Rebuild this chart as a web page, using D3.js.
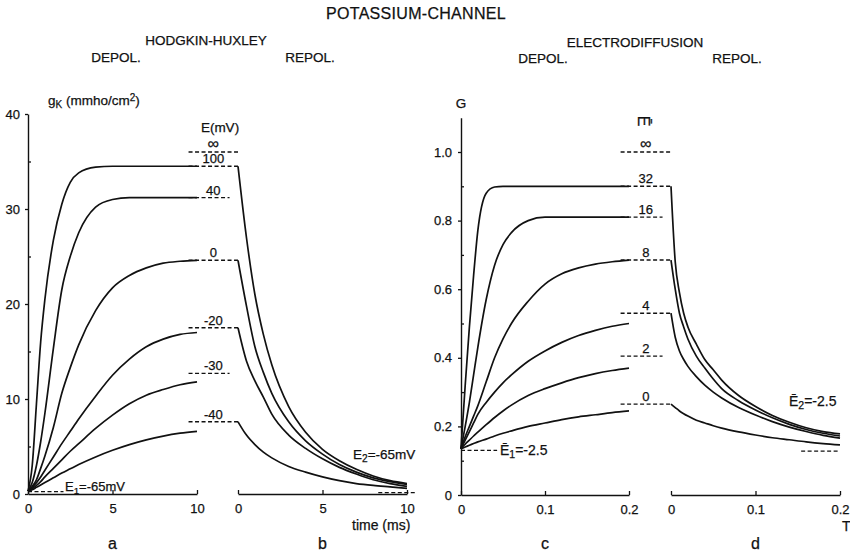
<!DOCTYPE html>
<html>
<head>
<meta charset="utf-8">
<script src="https://cdn.jsdelivr.net/npm/d3@7"></script>
<style>
  body { margin: 0; background: #fff; }
  svg { display: block; }
  text { font-family: "Liberation Sans", Arial, sans-serif; fill: #111; stroke: #111; stroke-width: 0.25px; }
</style>
</head>
<body>
<div id="chart"></div>
<script>
// ---- Hodgkin-Huxley, panels a (depol) and b (repol) ----
const hhLabels  = ['∞', '100', '40', '0', '-20', '-30', '-40'];
const hhSteady  = [36, 34.5, 31.2, 24.6, 17.5, 12.7, 7.6];
const hhRepol   = ['∞', '100', '0', '-20', '-40'];   // dashes that reach panel b

const hhTime  = [0, 0.25, 0.5, 0.75, 1, 1.5, 2, 2.5, 3, 4, 5, 6, 7, 8, 9, 10];
const hhOn100 = [0.3, 3, 9.5, 16, 20.5, 26.7, 30.5, 32.8, 33.8, 34.4, 34.5, 34.5, 34.5, 34.5, 34.5, 34.5];
const hhOn40  = [0.3, 1.2, 3, 5.5, 8.5, 15.3, 21.5, 25, 27.5, 30.2, 31, 31.2, 31.2, 31.2, 31.2, 31.2];
const hhOn0   = [0.3, 0.8, 1.5, 2.7, 4, 7, 10.6, 13.3, 15.7, 19.3, 21.7, 23, 23.8, 24.3, 24.5, 24.6];
const hhOnM20 = [0.3, 0.7, 1.2, 1.8, 2.5, 3.9, 5.3, 6.6, 7.9, 10.3, 12.5, 14.2, 15.5, 16.3, 16.8, 17.0];
const hhOnM30 = [0.3, 0.55, 0.9, 1.3, 1.8, 2.7, 3.6, 4.5, 5.3, 6.9, 8.3, 9.5, 10.4, 11.0, 11.5, 11.8];
const hhOnM40 = [0.3, 0.45, 0.7, 0.95, 1.2, 1.7, 2.2, 2.65, 3.1, 3.9, 4.6, 5.2, 5.7, 6.1, 6.4, 6.6];

const hhOffTime = [0, 0.5, 1, 1.5, 2, 3, 4, 5, 6, 7, 8, 9, 10];
const hhOff100  = [34.5, 27, 21, 16.8, 13.6, 9.2, 6.5, 4.7, 3.5, 2.6, 1.9, 1.4, 1.1];
const hhOff0    = [24.6, 19.8, 15.5, 12.8, 10.6, 7.6, 5.6, 4.2, 3.1, 2.3, 1.7, 1.3, 1.0];
const hhOffM20  = [17.5, 14.0, 11.9, 10.2, 8.4, 6.2, 4.8, 3.7, 2.8, 2.1, 1.5, 1.1, 0.8];
const hhOffM40  = [7.6, 6.2, 5.2, 4.4, 3.8, 2.9, 2.3, 1.8, 1.4, 1.1, 0.9, 0.75, 0.6];
const hhRest1 = 0.25, hhRest2 = 0.15;

// ---- Electrodiffusion, panels c (depol) and d (repol) ----
const edLabels = ['∞', '32', '16', '8', '4', '2', '0'];
const edSteady = [1.0, 0.9, 0.81, 0.685, 0.53, 0.405, 0.265];
const edRepol  = ['∞', '32', '8', '4', '0'];

const edTime = [0, 0.005, 0.01, 0.015, 0.02, 0.03, 0.04, 0.05, 0.06, 0.08, 0.1, 0.12, 0.14, 0.16, 0.18, 0.2];
const edOn32 = [0.135, 0.32, 0.49, 0.64, 0.77, 0.88, 0.898, 0.9, 0.9, 0.9, 0.9, 0.9, 0.9, 0.9, 0.9, 0.9];
const edOn16 = [0.135, 0.2, 0.27, 0.35, 0.43, 0.57, 0.67, 0.73, 0.765, 0.8, 0.81, 0.81, 0.81, 0.81, 0.81, 0.81];
const edOn8  = [0.135, 0.17, 0.2, 0.23, 0.26, 0.33, 0.4, 0.455, 0.5, 0.565, 0.615, 0.645, 0.662, 0.673, 0.68, 0.685];
const edOn4  = [0.135, 0.16, 0.185, 0.21, 0.235, 0.27, 0.3, 0.327, 0.35, 0.39, 0.42, 0.445, 0.465, 0.48, 0.492, 0.5];
const edOn2  = [0.135, 0.148, 0.16, 0.172, 0.183, 0.205, 0.226, 0.245, 0.262, 0.29, 0.31, 0.327, 0.342, 0.354, 0.363, 0.37];
const edOn0  = [0.135, 0.14, 0.145, 0.15, 0.155, 0.163, 0.172, 0.18, 0.187, 0.2, 0.21, 0.22, 0.228, 0.234, 0.24, 0.245];

const edOff32 = [0.9, 0.68, 0.59, 0.53, 0.49, 0.44, 0.395, 0.365, 0.335, 0.29, 0.258, 0.232, 0.212, 0.196, 0.185, 0.178];
const edOff8  = [0.685, 0.6, 0.53, 0.49, 0.455, 0.405, 0.37, 0.338, 0.31, 0.275, 0.248, 0.225, 0.206, 0.191, 0.18, 0.172];
const edOff4  = [0.53, 0.46, 0.42, 0.395, 0.375, 0.345, 0.32, 0.3, 0.283, 0.255, 0.233, 0.214, 0.198, 0.185, 0.174, 0.166];
const edOff0  = [0.265, 0.255, 0.245, 0.237, 0.23, 0.218, 0.21, 0.202, 0.195, 0.184, 0.175, 0.167, 0.161, 0.155, 0.15, 0.146];
const edRest1 = 0.13, edRest2 = 0.128;

// ---- drawing ----
const svg = d3.select('#chart').append('svg').attr('width', 850).attr('height', 555);
const INK = '#111';

const xa = d3.scaleLinear().domain([0, 10]).range([28, 197]);
const xb = d3.scaleLinear().domain([0, 10]).range([238, 407]);
const yL = d3.scaleLinear().domain([0, 40]).range([494, 114]);
const xc = d3.scaleLinear().domain([0, 0.2]).range([461, 629]);
const xd = d3.scaleLinear().domain([0, 0.2]).range([671, 840]);
const yR = d3.scaleLinear().domain([0, 1]).range([495, 152]);

function styleAxis(g, size) {
    g.select('.domain').attr('stroke', INK).attr('stroke-width', 1.4);
    g.selectAll('.tick line').attr('stroke', INK).attr('stroke-width', 1.3);
    g.selectAll('.tick text').attr('font-size', size).attr('fill', INK)
        .attr('font-family', '"Liberation Sans", Arial, sans-serif');
}

function xAxis(scale, ticks, fmt, y) {
    const g = svg.append('g').attr('transform', `translate(0,${y})`)
        .call(d3.axisBottom(scale).tickValues(ticks).tickFormat(fmt)
            .tickSizeInner(-4).tickSizeOuter(0).tickPadding(10));
    styleAxis(g, 13);
}

const fmtDec = d => d === 0 ? '0' : d3.format('.1f')(d);
xAxis(xa, [0, 5, 10], d3.format('d'), yL(0));
xAxis(xb, [0, 5, 10], d3.format('d'), yL(0));
xAxis(xc, [0, 0.1, 0.2], fmtDec, yR(0));
xAxis(xd, [0, 0.1, 0.2], fmtDec, yR(0));

// left y axis
const gL = svg.append('g').attr('transform', `translate(${xa(0)},0)`)
    .call(d3.axisLeft(yL).tickValues([0, 10, 20, 30, 40]).tickSizeInner(3).tickSizeOuter(0).tickPadding(5));
styleAxis(gL, 13);
const gLm = svg.append('g').attr('transform', `translate(${xa(0)},0)`)
    .call(d3.axisLeft(yL).tickValues([5, 15, 25, 35]).tickSizeInner(-3).tickFormat(''));
gLm.select('.domain').remove();
styleAxis(gLm, 13);

// right y axis (line runs a bit above 1.0)
const yRext = yR.copy().domain([0, 1.1]).range([yR(0), yR(1.1)]);
const gR = svg.append('g').attr('transform', `translate(${xc(0)},0)`)
    .call(d3.axisLeft(yRext).tickValues([0, 0.2, 0.4, 0.6, 0.8, 1.0]).tickFormat(fmtDec)
        .tickSizeInner(3).tickSizeOuter(0).tickPadding(6));
styleAxis(gR, 13);
const gRm = svg.append('g').attr('transform', `translate(${xc(0)},0)`)
    .call(d3.axisLeft(yRext).tickValues([0.1, 0.3, 0.5, 0.7, 0.9]).tickSizeInner(-3).tickFormat(''));
gRm.select('.domain').remove();
styleAxis(gRm, 13);

// curves
function curve(times, vals, x, y) {
    const pts = times.map((t, i) => [t, vals[i]]);
    svg.append('path').datum(pts)
        .attr('d', d3.line().x(d => x(d[0])).y(d => y(d[1])).curve(d3.curveMonotoneX))
        .attr('fill', 'none').attr('stroke', INK).attr('stroke-width', 1.7)
        .attr('stroke-linejoin', 'round');
}

[hhOn100, hhOn40, hhOn0, hhOnM20, hhOnM30, hhOnM40].forEach(v => curve(hhTime, v, xa, yL));
[hhOff100, hhOff0, hhOffM20, hhOffM40].forEach(v => curve(hhOffTime, v, xb, yL));
[edOn32, edOn16, edOn8, edOn4, edOn2, edOn0].forEach(v => curve(edTime, v, xc, yR));
[edOff32, edOff8, edOff4, edOff0].forEach(v => curve(edTime, v, xd, yR));

function dash(x1, x2, y) {
    svg.append('line').attr('x1', x1).attr('x2', x2).attr('y1', y).attr('y2', y)
        .attr('stroke', INK).attr('stroke-width', 1.4).attr('stroke-dasharray', '4,2.5');
}

function text(x, y, str, size, anchor) {
    return svg.append('text').attr('x', x).attr('y', y)
        .attr('font-size', size).attr('text-anchor', anchor || 'middle').text(str);
}

// steady-state levels with their labels
hhLabels.forEach((lab, i) => {
    const x1 = xa(9.5);
    const x2 = hhRepol.includes(lab) ? xb(0) : xb(-0.5);
    const y = yL(hhSteady[i]);
    dash(x1, x2, y);
    text((x1 + xb(0)) / 2, y - 3, lab, lab === '∞' ? 16 : 13);
});
edLabels.forEach((lab, i) => {
    const x1 = xc(0.19);
    const x2 = edRepol.includes(lab) ? xd(0) : xd(-0.01);
    const y = yR(edSteady[i]);
    dash(x1, x2, y);
    text((x1 + xd(0)) / 2, y - 3, lab, lab === '∞' ? 16 : 13);
});

// resting levels
dash(xa(0), xa(2.1), yL(hhRest1));
dash(xb(8.3), xb(10.6), yL(hhRest2));
dash(xc(0), xc(0.043), yR(edRest1));
dash(xd(0.154), xd(0.2), yR(edRest2));

// subscript labels
function subLabel(x, y, head, sub, tail, size) {
    const t = svg.append('text').attr('x', x).attr('y', y).attr('font-size', size);
    t.append('tspan').text(head);
    t.append('tspan').attr('font-size', size * 0.75).attr('dy', 3).text(sub);
    t.append('tspan').attr('dy', -3).text(tail);
    return t;
}
subLabel(65, 491, 'E', '1', '=-65mV', 13);
subLabel(353, 459, 'E', '2', '=-65mV', 13.5);
subLabel(500, 455, 'Ē', '1', '=-2.5', 14);
subLabel(789, 406, 'Ē', '2', '=-2.5', 14);

// axis titles
const gk = svg.append('text').attr('x', 48).attr('y', 105).attr('font-size', 13.5);
gk.append('tspan').text('g');
gk.append('tspan').attr('font-size', 10).attr('dy', 3).text('K');
gk.append('tspan').attr('dy', -3).text(' (mmho/cm');
gk.append('tspan').attr('font-size', 10).attr('dy', -4).text('2');
gk.append('tspan').attr('dy', 4).text(')');

text(220, 132, 'E(mV)', 13.5);
text(461, 108, 'G', 13.5);
text(643, 126, 'Ē', 16).attr('transform', 'rotate(90,643,121)');
text(352, 530, 'time (ms)', 14, 'start');
text(842, 531, 'T', 14, 'start');

// headings
text(416, 19, 'POTASSIUM-CHANNEL', 16).attr('letter-spacing', 0.3);
text(206, 45, 'HODGKIN-HUXLEY', 13.5);
text(116, 62, 'DEPOL.', 13.5);
text(310, 62, 'REPOL.', 13.5);
text(635, 47, 'ELECTRODIFFUSION', 13.5);
text(543, 63, 'DEPOL.', 13.5);
text(737, 63, 'REPOL.', 13.5);

// panel letters
[[xa(5), 'a'], [xb(5), 'b'], [xc(0.1), 'c'], [xd(0.1), 'd']].forEach(([x, s]) => text(x, 549, s, 16));
</script>
</body>
</html>
